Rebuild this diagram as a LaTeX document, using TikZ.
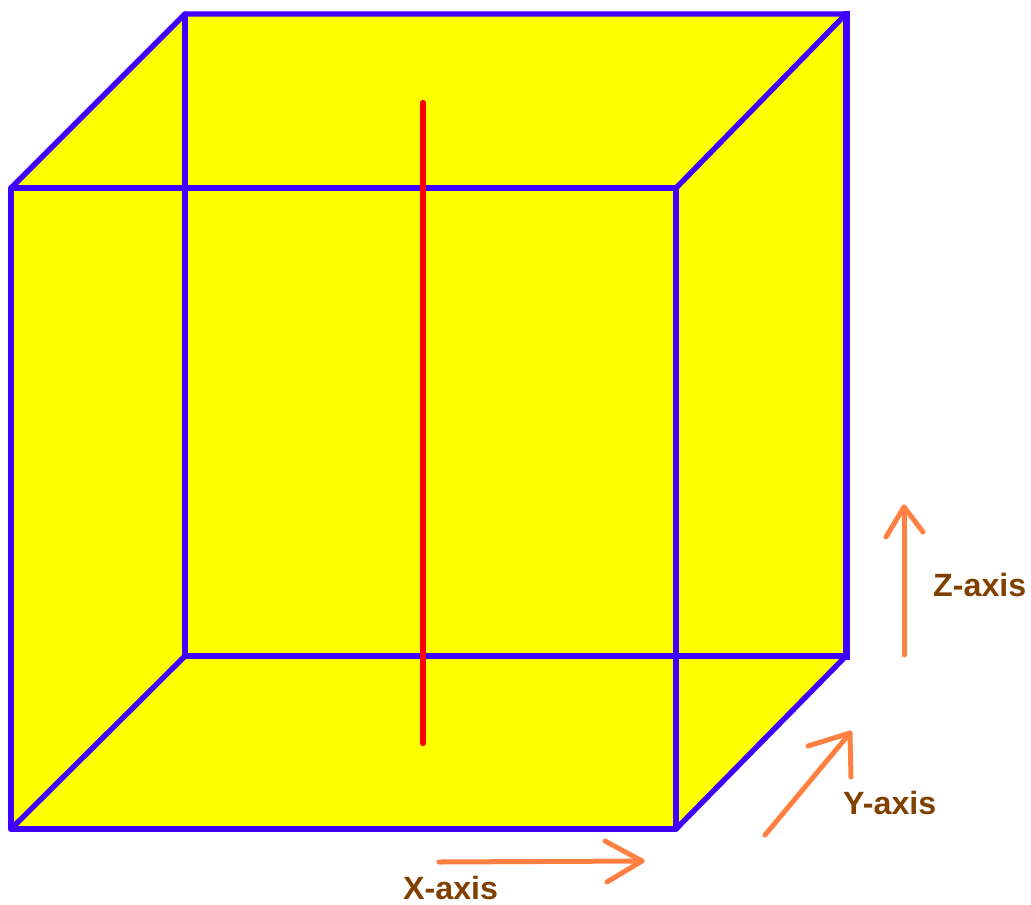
\documentclass[tikz,border=0pt]{standalone}
\usepackage{fontspec}
\setmainfont{Liberation Sans}
\definecolor{cubeblue}{RGB}{64,0,255}
\definecolor{cubefill}{RGB}{255,255,0}
\definecolor{rodred}{RGB}{255,0,0}
\definecolor{axisorange}{RGB}{255,128,64}
\definecolor{labelbrown}{RGB}{128,64,0}
\tikzset{
  edge/.style={draw=cubeblue,line width=5.4pt,line cap=round,line join=round},
  edgeheavy/.style={edge,line width=7pt,line cap=rect},
  axisline/.style={draw=axisorange,line width=5pt,line cap=round,line join=round},
  axislabel/.style={text=labelbrown,font=\bfseries\fontsize{32.2}{32.2}\selectfont,inner sep=0pt},
}
\begin{document}
\begin{tikzpicture}[x=1pt,y=-1pt]
\useasboundingbox (0,0) rectangle (1031,905);
\coordinate (fTL) at (11,188);
\coordinate (fTR) at (676,188);
\coordinate (fBL) at (11,829);
\coordinate (fBR) at (676,829);
\coordinate (bTL) at (185,14);
\coordinate (bTR) at (846,14);
\coordinate (bBL) at (185,656);
\coordinate (bBR) at (846,656);
\fill[cubefill] (fBL) -- (fTL) -- (bTL) -- (bTR) -- (bBR) -- (fBR) -- cycle;
\draw[edge] (bTL) -- (bBL) -- (bBR);
\draw[edge] (bBL) -- (fBL);
\draw[edge] (fTL) -- (fTR) -- (fBR) -- (fBL) -- cycle;
\draw[edge] (fTL) -- (bTL) -- (bTR);
\draw[edge] (fTR) -- (bTR);
\draw[edge] (fBR) -- (bBR);
\draw[edgeheavy] (bTR) -- (bBR);
\coordinate (rT) at (423,103);
\coordinate (rB) at (423,743);
\draw[draw=rodred,line width=6.5pt,line cap=round] (rT) -- (rB);
% axes
\coordinate (zS) at (904,655);
\coordinate (zE) at (904,507);
\coordinate (zA) at (886,537);
\coordinate (zB) at (923,532);
\draw[axisline] (zS) -- (zE);
\draw[axisline] (zA) -- (zE) -- (zB);
\coordinate (yS) at (765,835);
\coordinate (yE) at (850,733);
\coordinate (yA) at (808,746);
\coordinate (yB) at (851,777);
\draw[axisline] (yS) -- (yE);
\draw[axisline] (yA) -- (yE) -- (yB);
\coordinate (xS) at (439,862);
\coordinate (xE) at (642,861);
\coordinate (xA) at (605,841);
\coordinate (xB) at (607,882);
\draw[axisline] (xS) -- (xE);
\draw[axisline] (xA) -- (xE) -- (xB);
\node[axislabel,anchor=base west] (zL) at (933,596) {Z-axis};
\node[axislabel,anchor=base west] (yL) at (843,814) {Y-axis};
\node[axislabel,anchor=base west] (xL) at (403,899) {X-axis};
\end{tikzpicture}
\end{document}
